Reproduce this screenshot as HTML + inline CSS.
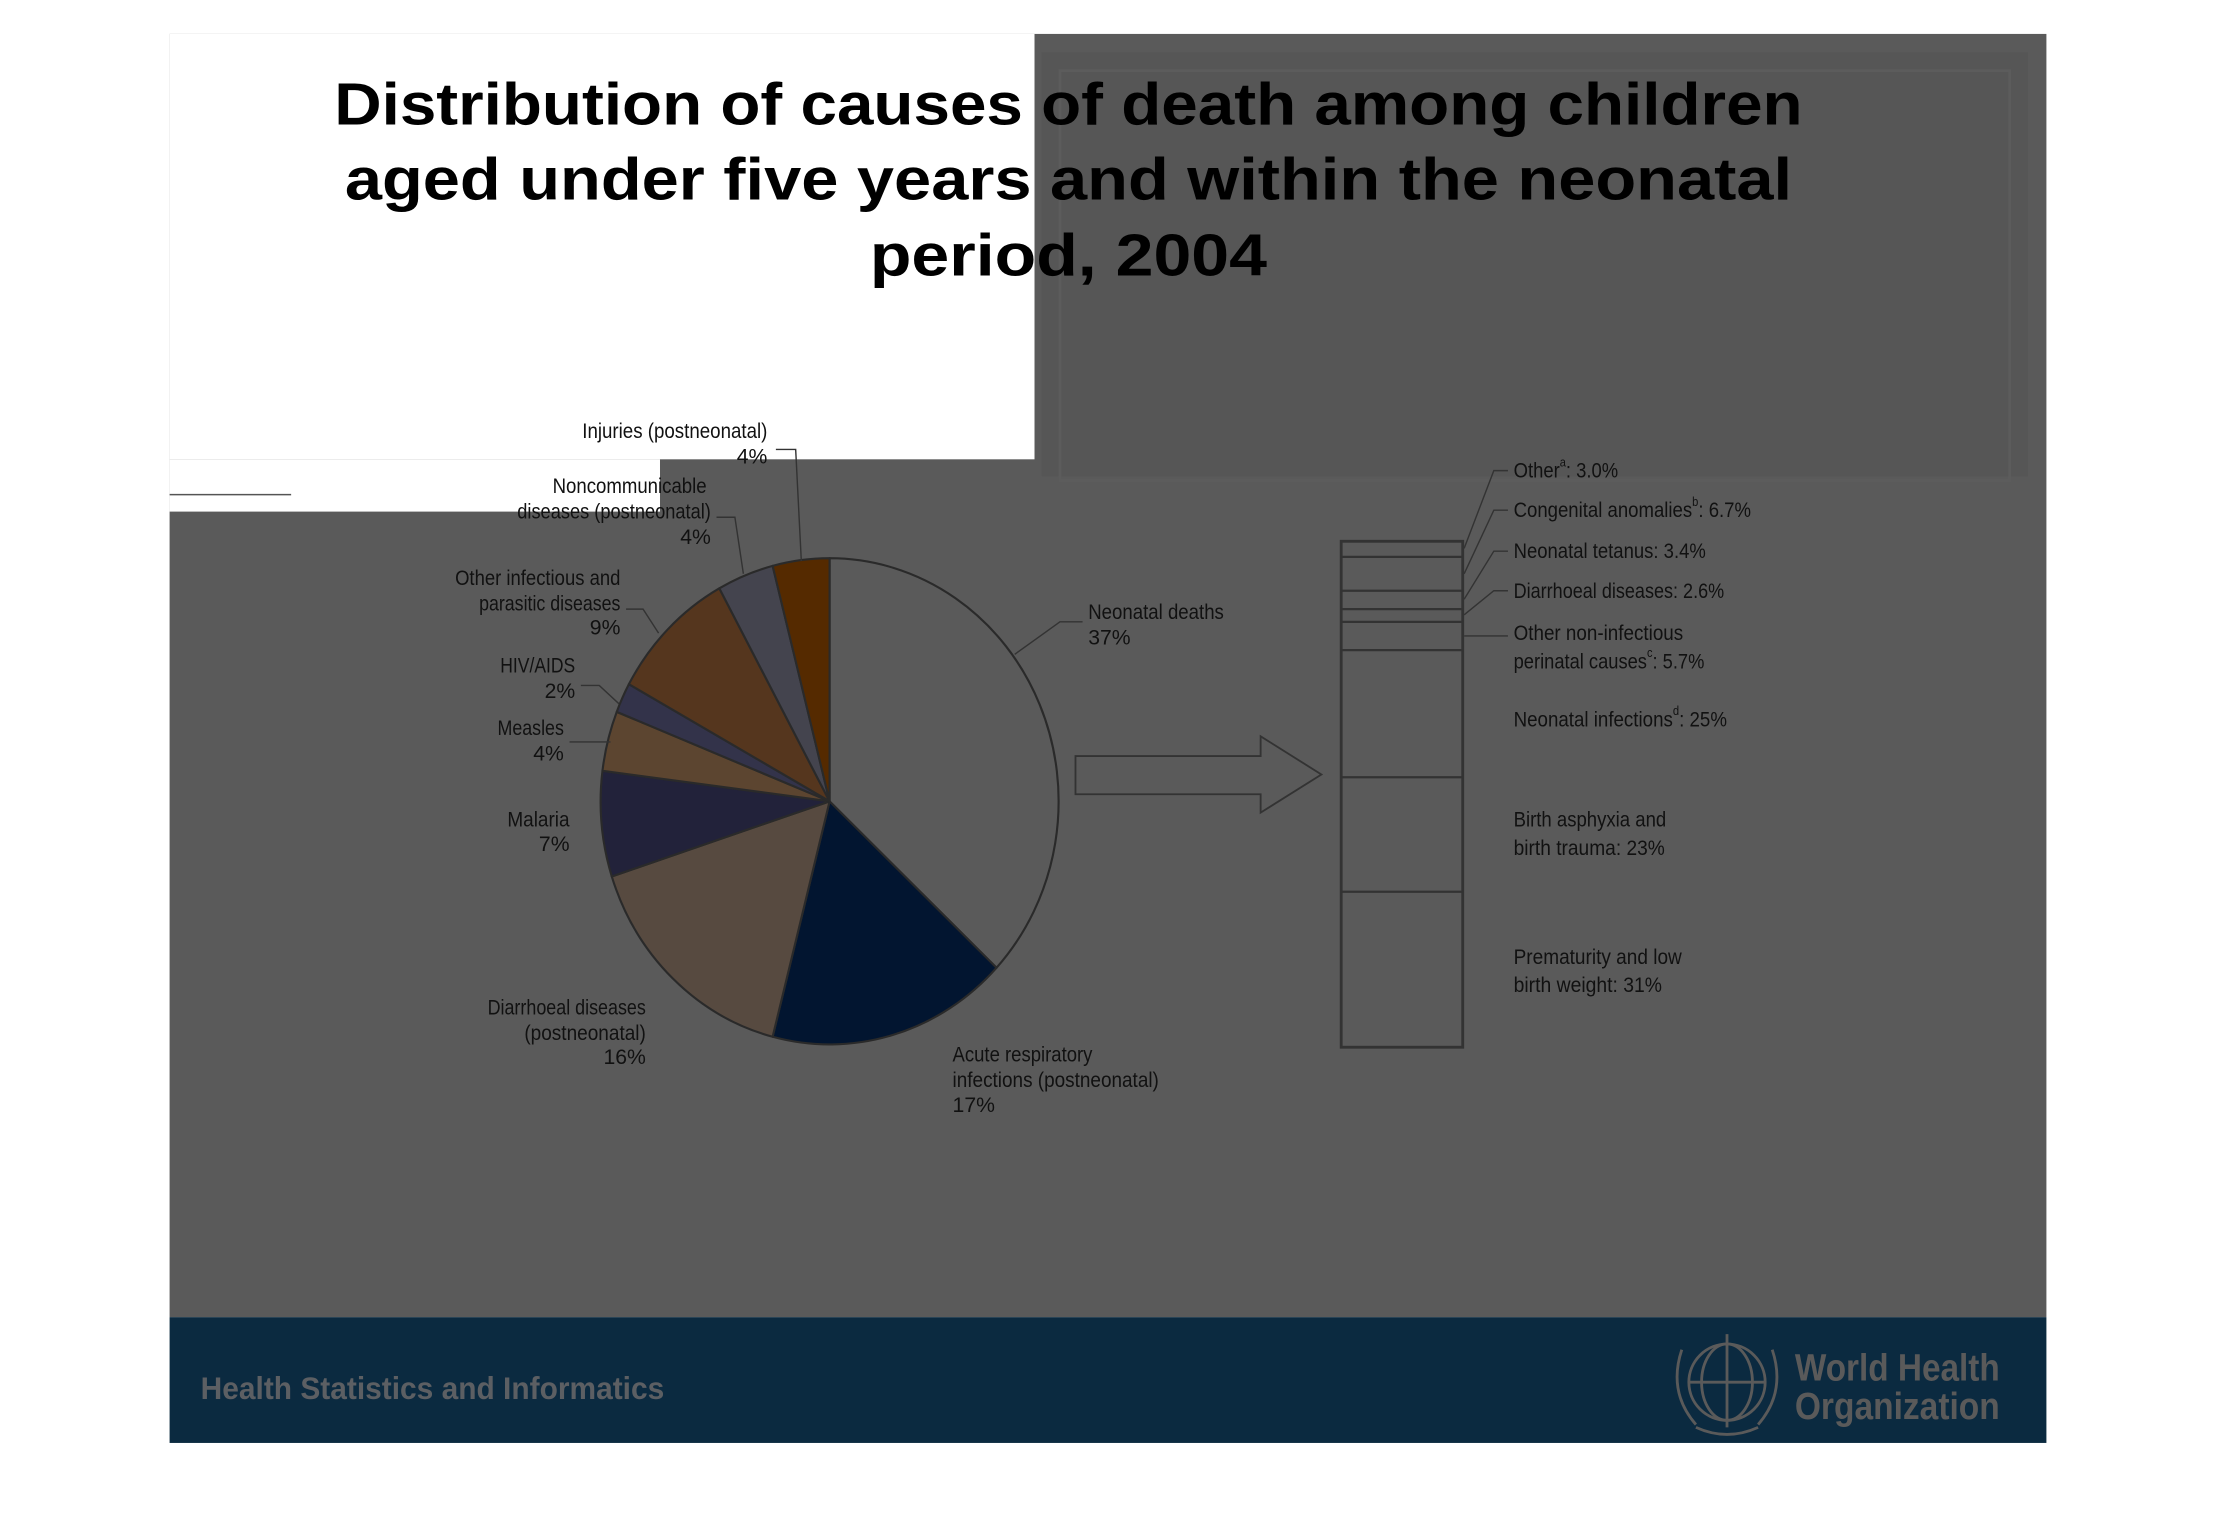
<!DOCTYPE html>
<html><head><meta charset="utf-8"><style>
html,body{margin:0;padding:0;background:#fff;}
svg{display:block;}
text{font-family:"Liberation Sans",sans-serif;}
</style></head><body>
<svg width="2216" height="1530" viewBox="0 0 1568 1082.6" preserveAspectRatio="none" xmlns="http://www.w3.org/2000/svg">
<rect x="0" y="0" width="1568" height="1083" fill="#fff"/>
<rect x="120" y="24" width="1328" height="908" fill="#5a5a5a"/>
<rect x="737" y="37" width="698" height="300" fill="#565656"/>
<rect x="750" y="50" width="672" height="290" fill="none" stroke="#5c5c5c" stroke-width="2"/>
<rect x="120" y="24" width="612" height="301" fill="#fff"/>
<rect x="120" y="325" width="347" height="37" fill="#fff"/>
<line x1="120" y1="350" x2="206" y2="350" stroke="#555" stroke-width="1"/>
<rect x="120" y="932" width="1328" height="89" fill="#0b2a40"/>

<g font-weight="bold" font-size="42" fill="#000" text-anchor="middle">
<text x="756" y="88" textLength="1039" lengthAdjust="spacingAndGlyphs" font-family="'DejaVu Sans',sans-serif">Distribution of causes of death among children</text>
<text x="756" y="141" textLength="1024" lengthAdjust="spacingAndGlyphs" font-family="'DejaVu Sans',sans-serif">aged under five years and within the neonatal</text>
<text x="756" y="195" textLength="281" lengthAdjust="spacingAndGlyphs" font-family="'DejaVu Sans',sans-serif">period, 2004</text>
</g>

<g stroke="#2a2a2a" stroke-width="1.5" stroke-linejoin="round">
<path d="M587,567 L587,395 A162,172 0 0 1 705.1,684.8 Z" fill="#5a5a5a"/>
<path d="M587,567 L705.1,684.8 A162,172 0 0 1 546.7,733.6 Z" fill="#021530"/>
<path d="M587,567 L546.7,733.6 A162,172 0 0 1 432.9,620.2 Z" fill="#574a40"/>
<path d="M587,567 L432.9,620.2 A162,172 0 0 1 426.3,545.4 Z" fill="#22223a"/>
<path d="M587,567 L426.3,545.4 A162,172 0 0 1 436.4,503.7 Z" fill="#5c4530"/>
<path d="M587,567 L436.4,503.7 A162,172 0 0 1 445,484.1 Z" fill="#33334a"/>
<path d="M587,567 L445,484.1 A162,172 0 0 1 509,416.3 Z" fill="#55361e"/>
<path d="M587,567 L509,416.3 A162,172 0 0 1 546.7,400.4 Z" fill="#44444e"/>
<path d="M587,567 L546.7,400.4 A162,172 0 0 1 587,395 Z" fill="#552a00"/>
</g>

<g stroke="#333" stroke-width="1" fill="none">
<polyline points="549,318 563,318 567,397"/>
<polyline points="507,366 520,366 526,406"/>
<polyline points="443,431 455,431 466,448"/>
<polyline points="411,485 424,485 438,498"/>
<polyline points="403,525 432,525"/>
<polyline points="766,440 750,440 718,463"/>
<polygon points="761,535 892,535 892,521 935,548 892,575 892,562 761,562" stroke-width="1.3"/>
<rect x="949" y="383" width="86" height="358" stroke-width="2"/>
<g stroke-width="1.6">
<line x1="949" y1="394" x2="1035" y2="394"/>
<line x1="949" y1="418" x2="1035" y2="418"/>
<line x1="949" y1="431" x2="1035" y2="431"/>
<line x1="949" y1="440" x2="1035" y2="440"/>
<line x1="949" y1="460" x2="1035" y2="460"/>
<line x1="949" y1="550" x2="1035" y2="550"/>
<line x1="949" y1="631" x2="1035" y2="631"/>
</g>
<polyline points="1067,333 1057,333 1036,388"/>
<polyline points="1067,361 1057,361 1036,406"/>
<polyline points="1067,390 1057,390 1036,424"/>
<polyline points="1067,418 1057,418 1036,435"/>
<polyline points="1036,450 1067,450"/>
</g>

<g font-size="15" fill="#111" text-anchor="end">
<text x="543" y="310" textLength="131" lengthAdjust="spacingAndGlyphs">Injuries (postneonatal)</text>
<text x="543" y="328">4%</text>
<text x="500" y="349" textLength="109" lengthAdjust="spacingAndGlyphs">Noncommunicable</text>
<text x="503" y="367" textLength="137" lengthAdjust="spacingAndGlyphs">diseases (postneonatal)</text>
<text x="503" y="385">4%</text>
<text x="439" y="414" textLength="117" lengthAdjust="spacingAndGlyphs">Other infectious and</text>
<text x="439" y="432" textLength="100" lengthAdjust="spacingAndGlyphs">parasitic diseases</text>
<text x="439" y="449">9%</text>
<text x="407" y="476" textLength="53" lengthAdjust="spacingAndGlyphs">HIV/AIDS</text>
<text x="407" y="494">2%</text>
<text x="399" y="520" textLength="47" lengthAdjust="spacingAndGlyphs">Measles</text>
<text x="399" y="538">4%</text>
<text x="403" y="585" textLength="44" lengthAdjust="spacingAndGlyphs">Malaria</text>
<text x="403" y="602">7%</text>
<text x="457" y="718" textLength="112" lengthAdjust="spacingAndGlyphs">Diarrhoeal diseases</text>
<text x="457" y="736" textLength="86" lengthAdjust="spacingAndGlyphs">(postneonatal)</text>
<text x="457" y="753">16%</text>
</g>
<g font-size="15" fill="#111">
<text x="674" y="751" textLength="99" lengthAdjust="spacingAndGlyphs">Acute respiratory</text>
<text x="674" y="769" textLength="146" lengthAdjust="spacingAndGlyphs">infections (postneonatal)</text>
<text x="674" y="787">17%</text>
<text x="770" y="438" textLength="96" lengthAdjust="spacingAndGlyphs">Neonatal deaths</text>
<text x="770" y="456">37%</text>
<text x="1071" y="338" textLength="74" lengthAdjust="spacingAndGlyphs">Other<tspan font-size="9" dy="-8">a</tspan><tspan dy="8">: 3.0%</tspan></text>
<text x="1071" y="366" textLength="168" lengthAdjust="spacingAndGlyphs">Congenital anomalies<tspan font-size="9" dy="-8">b</tspan><tspan dy="8">: 6.7%</tspan></text>
<text x="1071" y="395" textLength="136" lengthAdjust="spacingAndGlyphs">Neonatal tetanus: 3.4%</text>
<text x="1071" y="423" textLength="149" lengthAdjust="spacingAndGlyphs">Diarrhoeal diseases: 2.6%</text>
<text x="1071" y="453" textLength="120" lengthAdjust="spacingAndGlyphs">Other non-infectious</text>
<text x="1071" y="473" textLength="135" lengthAdjust="spacingAndGlyphs">perinatal causes<tspan font-size="9" dy="-8">c</tspan><tspan dy="8">: 5.7%</tspan></text>
<text x="1071" y="514" textLength="151" lengthAdjust="spacingAndGlyphs">Neonatal infections<tspan font-size="9" dy="-8">d</tspan><tspan dy="8">: 25%</tspan></text>
<text x="1071" y="585" textLength="108" lengthAdjust="spacingAndGlyphs">Birth asphyxia and</text>
<text x="1071" y="605" textLength="107" lengthAdjust="spacingAndGlyphs">birth trauma: 23%</text>
<text x="1071" y="682" textLength="119" lengthAdjust="spacingAndGlyphs">Prematurity and low</text>
<text x="1071" y="702" textLength="105" lengthAdjust="spacingAndGlyphs">birth weight: 31%</text>
</g>

<text x="142" y="990" font-size="22" font-weight="bold" fill="#5c5f63" textLength="328" lengthAdjust="spacingAndGlyphs">Health Statistics and Informatics</text>
<g stroke="#5a5a5a" stroke-width="2" fill="none">
<ellipse cx="1222" cy="978" rx="27" ry="27"/>
<ellipse cx="1222" cy="978" rx="18" ry="27"/>
<line x1="1195" y1="978" x2="1249" y2="978"/>
<line x1="1222" y1="944" x2="1222" y2="1010"/>
<path d="M1190,955 Q1180,985 1200,1008"/>
<path d="M1254,955 Q1264,985 1244,1008"/>
<path d="M1200,1010 Q1222,1020 1244,1010"/>
</g>
<g font-size="27" font-weight="bold" fill="#5a5a5a">
<text x="1270" y="977" textLength="145" lengthAdjust="spacingAndGlyphs">World Health</text>
<text x="1270" y="1004" textLength="145" lengthAdjust="spacingAndGlyphs">Organization</text>
</g>
</svg>
</body></html>
